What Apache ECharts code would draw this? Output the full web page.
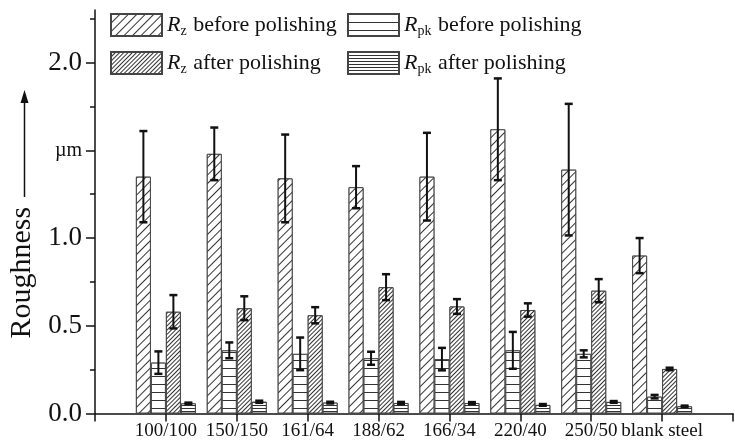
<!DOCTYPE html>
<html>
<head>
<meta charset="utf-8">
<script src="https://cdn.jsdelivr.net/npm/echarts@6/dist/echarts.min.js"></script>
<style>
  html, body { margin: 0; padding: 0; background: #fff; }
  #chart { width: 735px; height: 444px; }
</style>
</head>
<body>
<div id="chart"></div>
<script>
// Sample groups (laser parameters) and surface roughness in µm
const categories = ['100/100', '150/150', '161/64', '188/62', '166/34', '220/40', '250/50', 'blank steel'];

const rzBefore     = [1.35, 1.48, 1.34, 1.29, 1.35, 1.62, 1.39, 0.90];
const rzBeforeErr  = [0.26, 0.15, 0.25, 0.12, 0.25, 0.29, 0.375, 0.10];
const rpkBefore    = [0.29, 0.36, 0.34, 0.315, 0.31, 0.36, 0.34, 0.096];
const rpkBeforeErr = [0.064, 0.045, 0.093, 0.037, 0.064, 0.105, 0.02, 0.01];
const rzAfter      = [0.58, 0.60, 0.56, 0.72, 0.61, 0.59, 0.70, 0.254];
const rzAfterErr   = [0.095, 0.068, 0.046, 0.074, 0.042, 0.038, 0.066, 0.007];
const rpkAfter     = [0.058, 0.067, 0.062, 0.06, 0.06, 0.049, 0.066, 0.041];
const rpkAfterErr  = [0.004, 0.006, 0.005, 0.006, 0.005, 0.005, 0.005, 0.004];

const majorTicks = [0, 0.5, 1.0, 1.5, 2.0];
const minorTicks = [0.25, 0.75, 1.25, 1.75, 2.25];

const SERIF = "'Liberation Serif', 'Times New Roman', 'DejaVu Serif', serif";
const BAR_W = 15;
const INK = '#111';
const HATCH = '#333';

// Hatch fills
const diagSparse = { symbol: 'rect', symbolSize: 1, dashArrayX: [1, 0], dashArrayY: [1, 5], rotation: -Math.PI / 4, color: HATCH, backgroundColor: '#fff' };
const diagDense  = { symbol: 'rect', symbolSize: 1, dashArrayX: [1, 0], dashArrayY: [1, 2], rotation: -Math.PI / 4, color: HATCH, backgroundColor: '#fff' };
const horzSparse = { symbol: 'rect', symbolSize: 1, dashArrayX: [1, 0], dashArrayY: [1, 7], rotation: 0, color: HATCH, backgroundColor: '#fff' };
const horzDense  = { symbol: 'rect', symbolSize: 1, dashArrayX: [1, 0], dashArrayY: [1, 2], rotation: 0, color: HATCH, backgroundColor: '#fff' };

const names = ['Rz before polishing', 'Rpk before polishing', 'Rz after polishing', 'Rpk after polishing'];
const values = [rzBefore, rpkBefore, rzAfter, rpkAfter];
const errors = [rzBeforeErr, rpkBeforeErr, rzAfterErr, rpkAfterErr];
const decals = [diagSparse, horzSparse, diagDense, horzDense];

const pad = arr => ['-', ...arr, '-'];

const barSeries = names.map((n, k) => ({
  name: n,
  type: 'bar',
  barWidth: BAR_W,
  barGap: '0%',
  data: pad(values[k]),
  itemStyle: { color: '#fff', borderColor: '#444', borderWidth: 1, decal: decals[k] },
  emphasis: { disabled: true },
  z: 2
}));

const errorSeries = names.map((n, k) => ({
  type: 'custom',
  name: n + ' error',
  data: values[k].map((v, i) => [i + 1, v, errors[k][i]]),
  z: 5,
  silent: true,
  renderItem: function (params, api) {
    const x = api.value(0), v = api.value(1), e = api.value(2);
    const off = (k - 1.5) * BAR_W;
    const hi = api.coord([x, v + e]);
    const lo = api.coord([x, v - e]);
    const cx = hi[0] + off;
    const cap = 4;
    const st = { stroke: INK, lineWidth: 2 };
    return {
      type: 'group',
      children: [
        { type: 'line', shape: { x1: cx, y1: hi[1], x2: cx, y2: lo[1] }, style: st },
        { type: 'line', shape: { x1: cx - cap, y1: hi[1], x2: cx + cap, y2: hi[1] }, style: { stroke: INK, lineWidth: 2.5 } },
        { type: 'line', shape: { x1: cx - cap, y1: lo[1], x2: cx + cap, y2: lo[1] }, style: { stroke: INK, lineWidth: 2.5 } }
      ]
    };
  }
}));

const legendFormatter = n => {
  const parts = n.split(' ');
  const sym = parts[0];
  const sub = sym.slice(1);
  return '{i|R}{s|' + sub + '} ' + parts.slice(1).join(' ');
};

const legendText = {
  fontFamily: SERIF,
  fontSize: 22,
  color: INK,
  rich: {
    i: { fontFamily: SERIF, fontSize: 22, fontStyle: 'italic', color: INK, lineHeight: 26 },
    s: { fontFamily: SERIF, fontSize: 14, color: INK, verticalAlign: 'bottom', lineHeight: 14, padding: [0, 1, 0, 0] }
  }
};

const legendCommon = {
  orient: 'vertical',
  top: 13,
  itemWidth: 51,
  itemHeight: 22,
  itemGap: 13,
  icon: 'rect',
  selectedMode: false,
  padding: 0,
  formatter: legendFormatter,
  textStyle: legendText
};

const chart = echarts.init(document.getElementById('chart'), null, { renderer: 'canvas' });

chart.setOption({
  animation: false,
  backgroundColor: '#fff',
  grid: { left: 95, right: 2, top: 10, bottom: 30.5, containLabel: false, outerBoundsMode: 'none' },
  legend: [
    Object.assign({ left: 110, data: [names[0], names[2]] }, legendCommon),
    Object.assign({ left: 347, data: [names[1], names[3]] }, legendCommon)
  ],
  xAxis: {
    type: 'category',
    boundaryGap: false,
    data: ['', ...categories, ''],
    axisLine: { lineStyle: { color: INK, width: 1.5 } },
    axisTick: { show: true, length: 8, lineStyle: { color: INK, width: 1.5 } },
    axisLabel: { interval: 0, fontFamily: SERIF, fontSize: 19, color: INK, margin: 8 },
    splitLine: { show: false }
  },
  yAxis: [
    {
      type: 'value',
      min: 0,
      max: 2.3,
      interval: 0.5,
      name: 'Roughness',
      nameLocation: 'middle',
      nameRotate: 90,
      nameGap: 57,
      nameTextStyle: { fontFamily: SERIF, fontSize: 30, color: INK, padding: [0, 122, 0, 0] },
      axisLine: { show: true, lineStyle: { color: INK, width: 1.5 } },
      axisTick: { show: true, length: 9, customValues: majorTicks, lineStyle: { color: INK, width: 1.5 } },
      axisLabel: {
        customValues: majorTicks,
        margin: 13,
        fontFamily: SERIF,
        fontSize: 27,
        color: INK,
        formatter: v => (Math.abs(v - 1.5) < 1e-9 ? '{u|µm}' : v.toFixed(1)),
        rich: { u: { fontFamily: SERIF, fontSize: 20, color: INK } }
      },
      splitLine: { show: false }
    },
    {
      type: 'value',
      min: 0,
      max: 2.3,
      interval: 0.5,
      position: 'left',
      axisLine: { show: false },
      axisTick: { show: true, length: 5, customValues: minorTicks, lineStyle: { color: INK, width: 1.5 } },
      axisLabel: { show: false },
      splitLine: { show: false }
    }
  ],
  graphic: [
    // upward arrow beside the axis name
    { type: 'line', shape: { x1: 24.5, y1: 197, x2: 24.5, y2: 100 }, style: { stroke: INK, lineWidth: 1.5 }, silent: true },
    { type: 'polygon', shape: { points: [[24.5, 90], [20.5, 103], [28.5, 103]] }, style: { fill: INK }, silent: true }
  ],
  series: [...barSeries, ...errorSeries]
});
</script>
</body>
</html>
